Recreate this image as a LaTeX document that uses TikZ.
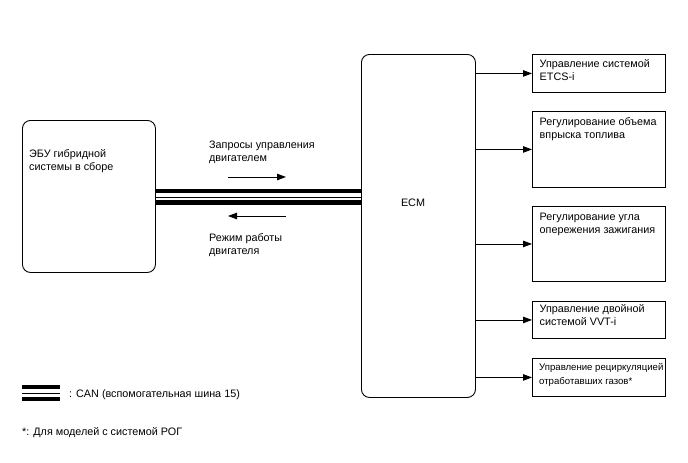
\documentclass[tikz,border=0pt]{standalone}
\usepackage{fontspec}
\setmainfont{Liberation Sans}
\usetikzlibrary{arrows.meta}
\begin{document}
\begin{tikzpicture}[x=1pt,y=-1pt,
  box/.style={draw,line width=0.9pt,inner sep=0pt,anchor=north west},
  rbox/.style={box,rounded corners=8pt},
  txt/.style={anchor=base west,inner sep=0pt,align=left,font=\fontsize{10.8}{13.3}\selectfont},
  stxt/.style={txt,font=\fontsize{9.6}{13.3}\selectfont},
  arr/.style={line width=0.9pt,-{Triangle[length=9pt,width=6.5pt]}},
  sig/.style={line width=0.9pt,-{Triangle[length=9pt,width=6.5pt]}}]
\useasboundingbox (0,0) rectangle (688,463);
% main boxes
\node[rbox,minimum width=133pt,minimum height=152pt] (ebu) at (22,120) {};
\node[rbox,minimum width=114pt,minimum height=343pt] (ecm) at (361,54) {};
% last-line baselines (first line + 13.3)
\node[txt] (ebut) at (29,170.6) {ЭБУ гибридной\\системы в сборе};
\node[txt,anchor=base] (ecmt) at (413,206) {ECM};
% right boxes
\node[box,minimum width=133pt,minimum height=38pt] (b1) at (532,54) {};
\node[box,minimum width=133pt,minimum height=76pt] (b2) at (532,111) {};
\node[box,minimum width=133pt,minimum height=75pt] (b3) at (532,206) {};
\node[box,minimum width=133pt,minimum height=37pt] (b4) at (532,301) {};
\node[box,minimum width=133pt,minimum height=38pt] (b5) at (532,358) {};
\node[txt] (b1t) at (539.5,80.6) {Управление системой\\ETCS-i};
\node[txt] (b2t) at (539.5,138.8) {Регулирование объема\\впрыска топлива};
\node[txt] (b3t) at (539.5,233.8) {Регулирование угла\\опережения зажигания};
\node[txt] (b4t) at (539.5,325.8) {Управление двойной\\системой VVT-i};
\node[stxt] (b5t) at (539,384) {Управление рециркуляцией\\отработавших газов*};
\foreach \b in {b1,b2,b3,b4,b5}
  \draw[arr] (\b.west -| ecm.east) -- (\b.west);
% CAN bus
\draw[line width=4pt] (ebu.east |- 0,191) -- (ecm.west |- 0,191);
\draw[line width=1pt] (ebu.east |- 0,197) -- (ecm.west |- 0,197);
\draw[line width=4.5pt] (ebu.east |- 0,202.5) -- (ecm.west |- 0,202.5);
% signals
\coordinate (s1a) at (228,177);
\coordinate (s1b) at (286,177);
\coordinate (s2a) at (286,216);
\coordinate (s2b) at (228,216);
\draw[sig] (s1a) -- (s1b);
\draw[sig] (s2a) -- (s2b);
\node[txt] (req) at (209,161.6) {Запросы управления\\двигателем};
\node[txt] (mode) at (209,254.3) {Режим работы\\двигателя};
% legend
\draw[line width=3.5pt] (22,387) coordinate (l1a) -- (60,387) coordinate (l1b);
\draw[line width=1pt] (22,393) coordinate (l2a) -- (60,393) coordinate (l2b);
\draw[line width=3.5pt] (22,399) coordinate (l3a) -- (60,399) coordinate (l3b);
\node[txt] (leg) at (69,397) {: CAN (вспомогательная шина 15)};
\node[txt] (foot) at (22,435) {*: Для моделей с системой РОГ};
\end{tikzpicture}
\end{document}
